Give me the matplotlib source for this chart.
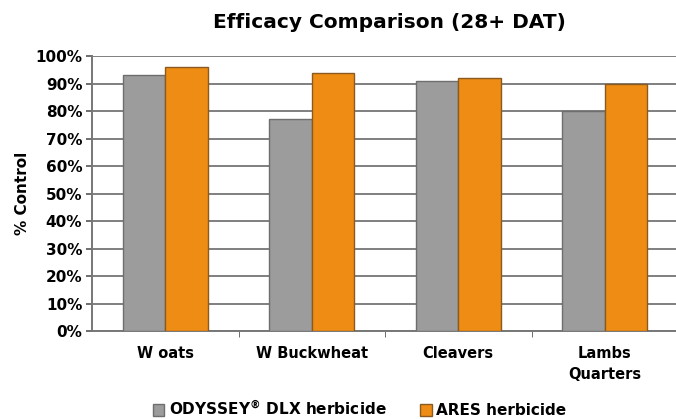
import numpy as np
import matplotlib.pyplot as plt
from matplotlib.ticker import PercentFormatter

plt.rcParams['font.family'] = ['DejaVu Sans']
plt.rcParams['mathtext.default'] = 'bf'

categories = ["W oats", "W Buckwheat", "Cleavers", "Lambs\nQuarters"]
odyssey = [93, 77, 91, 80]
ares = [96, 94, 92, 90]
series_names = ["ODYSSEY$^{\u00ae}$ DLX herbicide", "ARES herbicide"]

fig = plt.figure(figsize=(6.76, 4.19), dpi=100)
ax = fig.add_axes([92 / 676, 1 - 331 / 419, 586 / 676, 275 / 419])

x = np.arange(len(categories))
w = 0.29
ax.bar(x - w / 2, odyssey, w, color="#9c9c9c", edgecolor="#6e6e6e", lw=1, label=series_names[0], zorder=3)
ax.bar(x + w / 2, ares, w, color="#ee8c14", edgecolor="#8a5a20", lw=1, label=series_names[1], zorder=3)

ax.set_xlim(-0.5, len(categories) - 0.5)
ax.set_ylim(0, 100)
ax.set_yticks(np.arange(0, 101, 10))
ax.yaxis.set_major_formatter(PercentFormatter(decimals=0))
ax.yaxis.grid(True, color="#7f7f7f", lw=1.4, zorder=0)

ax.set_xticks(x)
ax.set_xticklabels(categories, fontweight="bold", fontsize=10.5, linespacing=1.5)
ax.set_xticks(np.arange(0.5, len(categories) - 0.5, 1), minor=True)
ax.tick_params(axis="x", which="major", length=0, pad=11)
ax.tick_params(axis="x", which="minor", length=4, color="#555555")
ax.tick_params(axis="y", length=4, width=1.2, color="#555555", labelsize=11, pad=3)
for lab in ax.get_yticklabels():
    lab.set_fontweight("bold")

for s in ["top", "right"]:
    ax.spines[s].set_visible(False)
for s in ["left", "bottom"]:
    ax.spines[s].set_color("#777777")
    ax.spines[s].set_linewidth(1.4)

ax.set_ylabel("% Control", fontweight="bold", fontsize=11, labelpad=4)
fig.text(389 / 676, 0.947, "Efficacy Comparison (28+ DAT)", ha="center", va="center",
         fontweight="bold", fontsize=14.5)

fig.legend(loc="center", bbox_to_anchor=(0.532, 0.024), ncol=2, frameon=False,
           prop={"weight": "bold", "size": 11}, handlelength=0.75, handleheight=0.75,
           handletextpad=0.3, columnspacing=2.2)

fig.savefig("out.png", dpi=100)
